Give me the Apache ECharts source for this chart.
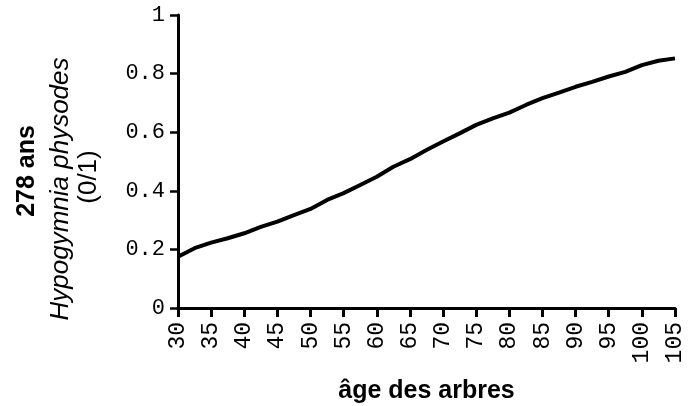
<!DOCTYPE html>
<html>
<head>
<meta charset="utf-8">
<script src="https://cdn.jsdelivr.net/npm/echarts@6/dist/echarts.min.js"></script>
<style>
html, body { margin: 0; padding: 0; background: #fff; }
#main { width: 691px; height: 406px; }
</style>
</head>
<body>
<div id="main"></div>
<script>
// ages (x) and probability of Hypogymnia physodes presence (y)
var ages = [30, 32.5, 35, 37.5, 40, 42.5, 45, 47.5, 50, 52.5, 55, 57.5, 60, 62.5, 65, 67.5,
    70, 72.5, 75, 77.5, 80, 82.5, 85, 87.5, 90, 92.5, 95, 97.5, 100, 102.5, 105];
var presence = [0.175, 0.204, 0.223, 0.238, 0.255, 0.277, 0.295, 0.317, 0.338, 0.369, 0.392, 0.42, 0.448, 0.482, 0.508, 0.539,
    0.568, 0.596, 0.625, 0.647, 0.667, 0.693, 0.716, 0.735, 0.755, 0.772, 0.79, 0.806, 0.829, 0.844, 0.852];
var yTitle = ['278 ans', 'Hypogymnia physodes', '(0/1)'];
var xTitle = 'âge des arbres';

var mono = '"Liberation Mono", "DejaVu Sans Mono", monospace';
var sans = '"Liberation Sans", Arial, sans-serif';

var chart = echarts.init(document.getElementById('main'));
var option = {
    animation: false,
    backgroundColor: '#fff',
    // fixed plot box, don't let v6 shrink it for the labels
    grid: { left: 178, right: 16, top: 15, bottom: 98, outerBoundsMode: 'none' },
    xAxis: {
        type: 'value',
        min: 30,
        max: 105,
        interval: 5,
        name: xTitle,
        nameLocation: 'middle',
        nameGap: 71,
        nameTextStyle: { fontFamily: sans, fontWeight: 'bold', fontSize: 25, color: '#000' },
        axisLine: { lineStyle: { color: '#000', width: 3 } },
        axisTick: { length: 9, lineStyle: { color: '#000', width: 3 } },
        axisLabel: { rotate: 90, margin: 14, fontFamily: mono, fontSize: 23, color: '#000' },
        splitLine: { show: false }
    },
    yAxis: {
        type: 'value',
        min: 0,
        max: 1,
        interval: 0.2,
        axisLine: { show: true, lineStyle: { color: '#000', width: 3 } },
        axisTick: { show: true, length: 8, lineStyle: { color: '#000', width: 2.5 } },
        axisLabel: { margin: 13, fontFamily: mono, fontSize: 22, color: '#000' },
        splitLine: { show: false }
    },
    graphic: [
        { type: 'text', x: 27, y: 171, rotation: Math.PI / 2,
          style: { text: yTitle[0], font: 'bold 25px ' + sans, fill: '#000', align: 'center', verticalAlign: 'middle' } },
        { type: 'text', x: 61, y: 189, rotation: Math.PI / 2,
          style: { text: yTitle[1], font: 'italic 26px ' + sans, fill: '#000', align: 'center', verticalAlign: 'middle' } },
        { type: 'text', x: 89, y: 177, rotation: Math.PI / 2,
          style: { text: yTitle[2], font: '26px ' + sans, fill: '#000', align: 'center', verticalAlign: 'middle' } }
    ],
    series: [{
        type: 'line',
        data: ages.map(function (a, i) { return [a, presence[i]]; }),
        showSymbol: false,
        smooth: false,
        lineStyle: { color: '#000', width: 4 }
    }]
};
chart.setOption(option);
</script>
</body>
</html>
